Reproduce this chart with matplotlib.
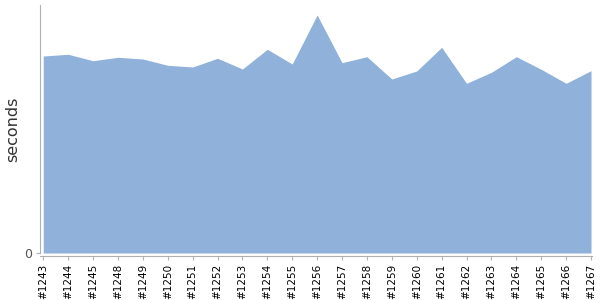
import matplotlib
matplotlib.use("Agg")
import matplotlib.pyplot as plt

# build labels and durations
builds = ["#1243", "#1244", "#1245", "#1248", "#1249", "#1250", "#1251", "#1252",
          "#1253", "#1254", "#1255", "#1256", "#1257", "#1258", "#1259", "#1260",
          "#1261", "#1262", "#1263", "#1264", "#1265", "#1266", "#1267"]
seconds = [197, 198.7, 192.3, 195.7, 194, 187.7, 186, 194.7,
           184, 203.7, 189, 238, 190.3, 196.3, 174, 182,
           205.7, 169.7, 180.7, 196.3, 183.7, 169.7, 182.3]

fill_color = "#8fb1da"
axis_color = "#b0b0b0"

fig = plt.figure(figsize=(6, 3), dpi=100)
ax = fig.add_axes([40 / 600, 47 / 300, 552 / 600, 248 / 300])

x = range(len(builds))
ax.fill_between(x, 0, seconds, color=fill_color, linewidth=0)

ax.set_xlim(-0.13, len(builds) - 1 + 0.04)
ax.set_ylim(0, 248)

ax.set_xticks(list(x))
ax.set_xticklabels(builds)
ax.set_yticks([0])
ax.set_yticklabels(["0"])
ax.set_ylabel("seconds", fontsize=11.5, color="#333333")
ax.yaxis.set_label_coords(-0.036, 0.5)

for side in ["top", "right"]:
    ax.spines[side].set_visible(False)
ax.spines["left"].set_color(axis_color)
ax.spines["bottom"].set_color(axis_color)
ax.spines["bottom"].set_position(("outward", 2))
ax.tick_params(axis="both", color=axis_color, length=3, pad=3)
ax.tick_params(axis="x", labelrotation=90, labelsize=7.5, labelcolor="black")
ax.tick_params(axis="y", labelsize=9, labelcolor="#555555")

fig.savefig("out.png", dpi=100)
